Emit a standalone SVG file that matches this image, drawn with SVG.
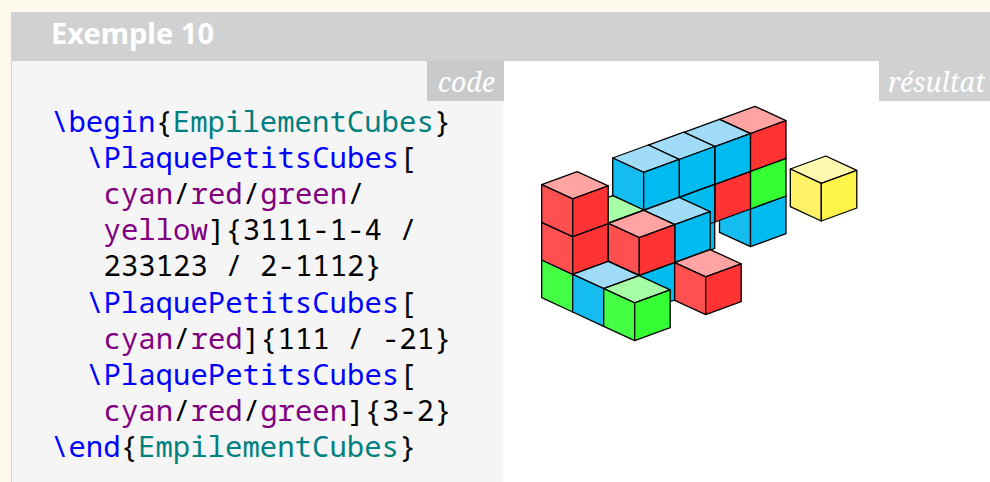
<svg xmlns="http://www.w3.org/2000/svg" width="990" height="482" viewBox="0 0 990 482">
<style>
.code{font-family:"Noto Sans Mono","DejaVu Sans Mono","Liberation Mono",monospace;font-size:29px;fill:#000}
.k{fill:#0000ff}.e{fill:#008080}.o{fill:#800080}
.lab{font-family:"Noto Serif","DejaVu Serif","Liberation Serif",serif;font-style:italic;font-size:26.8px;fill:#fff;text-anchor:end}
.title{font-family:"Noto Sans","Liberation Sans",sans-serif;font-weight:700;font-size:29px;fill:#fff}
polygon{stroke:#000;stroke-width:1.3;stroke-linejoin:round}
.rt{fill:#ffa3a3}.rl{fill:#ff5050}.rr{fill:#ff3333}
.bt{fill:#a0dcf8}.bl{fill:#14bcf0}.br{fill:#00bbf0}
.gt{fill:#a6ffa6}.gl{fill:#44ff44}.gr{fill:#33ff33}
.yt{fill:#fff8b0}.yl{fill:#fff266}.yr{fill:#fff44a}
</style>
<defs>
<g id="red"><polygon class="rt" points="0,0 35.5,-13 66.5,1.3 31,14.3"/><polygon class="rl" points="0,0 31,14.3 31,52 0,37.7"/><polygon class="rr" points="31,14.3 66.5,1.3 66.5,39 31,52"/></g>
<g id="blue"><polygon class="bt" points="0,0 35.5,-13 66.5,1.3 31,14.3"/><polygon class="bl" points="0,0 31,14.3 31,52 0,37.7"/><polygon class="br" points="31,14.3 66.5,1.3 66.5,39 31,52"/></g>
<g id="green"><polygon class="gt" points="0,0 35.5,-13 66.5,1.3 31,14.3"/><polygon class="gl" points="0,0 31,14.3 31,52 0,37.7"/><polygon class="gr" points="31,14.3 66.5,1.3 66.5,39 31,52"/></g>
<g id="yellow"><polygon class="yt" points="0,0 35.5,-13 66.5,1.3 31,14.3"/><polygon class="yl" points="0,0 31,14.3 31,52 0,37.7"/><polygon class="yr" points="31,14.3 66.5,1.3 66.5,39 31,52"/></g>
</defs>
<rect width="990" height="482" fill="#fff9ee"/>
<rect x="11" y="12" width="979" height="49" fill="#d0d1d3"/>
<rect x="11" y="61" width="492" height="421" fill="#f5f5f5"/>
<rect x="11" y="61" width="1" height="421" fill="#d0d1d3"/>
<rect x="503" y="61" width="487" height="421" fill="#fff"/>
<rect x="427" y="61" width="77" height="40" fill="#c9cacb"/>
<rect x="879" y="61" width="111" height="40" fill="#d0d1d3"/>
<text class="title" x="51" y="44">Exemple 10</text>
<text class="lab" x="495" y="91.5">code</text>
<text class="lab" x="985" y="91.5">résultat</text>
<g id="code" xml:space="preserve">
<text class="code" x="51" y="131.5"><tspan class="k">\begin</tspan>{<tspan class="e">EmpilementCubes</tspan>}</text>
<text class="code" x="86" y="167.7"><tspan class="k">\PlaquePetitsCubes</tspan>[</text>
<text class="code" x="103.5" y="203.9"><tspan class="o">cyan</tspan>/<tspan class="o">red</tspan>/<tspan class="o">green</tspan>/</text>
<text class="code" x="103.5" y="240.1"><tspan class="o">yellow</tspan>]{3111-1-4 /</text>
<text class="code" x="103.5" y="276.3">233123 / 2-1112}</text>
<text class="code" x="86" y="312.5"><tspan class="k">\PlaquePetitsCubes</tspan>[</text>
<text class="code" x="103.5" y="348.7"><tspan class="o">cyan</tspan>/<tspan class="o">red</tspan>]{111 / -21}</text>
<text class="code" x="86" y="384.9"><tspan class="k">\PlaquePetitsCubes</tspan>[</text>
<text class="code" x="103.5" y="421.1"><tspan class="o">cyan</tspan>/<tspan class="o">red</tspan>/<tspan class="o">green</tspan>]{3-2}</text>
<text class="code" x="51" y="457.3"><tspan class="k">\end</tspan>{<tspan class="e">EmpilementCubes</tspan>}</text>
</g>
<g id="cubes">
<use href="#blue" x="719.5" y="194.7"/>
<use href="#green" x="719.5" y="157"/>
<use href="#red" x="719.5" y="119.3"/>
<polygon class="br" points="700,205 714.7,222 714.7,248.5 700,254"/>
<use href="#red" x="683.9" y="170"/>
<use href="#blue" x="683.9" y="132.3"/>
<use href="#blue" x="648.2" y="183"/>
<use href="#blue" x="648.2" y="145.2"/>
<use href="#blue" x="612.7" y="158"/>
<use href="#green" x="577.3" y="208.7"/>
<use href="#blue" x="643.7" y="210.3"/>
<use href="#blue" x="608.3" y="261"/>
<use href="#green" x="541.7" y="260"/>
<use href="#red" x="541.7" y="222.3"/>
<use href="#red" x="541.7" y="184.6"/>
<use href="#red" x="608.3" y="223.3"/>
<use href="#blue" x="572.7" y="274.3"/>
<use href="#green" x="603.7" y="288.6"/>
<use href="#red" x="674.7" y="262.6"/>
<use href="#yellow" x="790.3" y="169"/>
</g>
</svg>
